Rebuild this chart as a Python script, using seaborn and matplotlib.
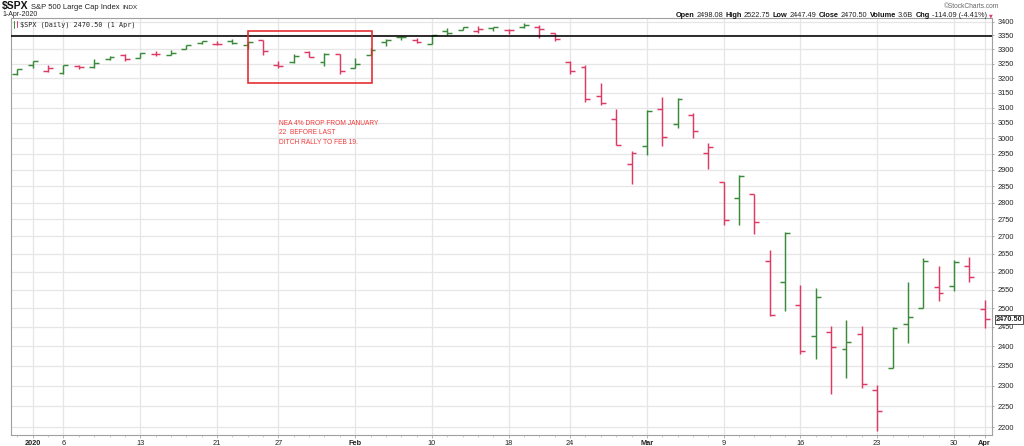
import numpy as np
import pandas as pd
import matplotlib
matplotlib.use("Agg")
import matplotlib.pyplot as plt
import seaborn as sns
from matplotlib.ticker import FixedLocator, FuncFormatter, NullLocator
from matplotlib.patches import Rectangle
from matplotlib.lines import Line2D

# ---------------- data ----------------
dates = ["2019-12-31",
         "2020-01-02", "2020-01-03", "2020-01-06", "2020-01-07", "2020-01-08", "2020-01-09", "2020-01-10",
         "2020-01-13", "2020-01-14", "2020-01-15", "2020-01-16", "2020-01-17", "2020-01-21", "2020-01-22",
         "2020-01-23", "2020-01-24", "2020-01-27", "2020-01-28", "2020-01-29", "2020-01-30", "2020-01-31",
         "2020-02-03", "2020-02-04", "2020-02-05", "2020-02-06", "2020-02-07", "2020-02-10", "2020-02-11",
         "2020-02-12", "2020-02-13", "2020-02-14", "2020-02-18", "2020-02-19", "2020-02-20", "2020-02-21",
         "2020-02-24", "2020-02-25", "2020-02-26", "2020-02-27", "2020-02-28",
         "2020-03-02", "2020-03-03", "2020-03-04", "2020-03-05", "2020-03-06", "2020-03-09", "2020-03-10",
         "2020-03-11", "2020-03-12", "2020-03-13", "2020-03-16", "2020-03-17", "2020-03-18", "2020-03-19",
         "2020-03-20", "2020-03-23", "2020-03-24", "2020-03-25", "2020-03-26", "2020-03-27", "2020-03-30",
         "2020-03-31", "2020-04-01"]

open_ = [3215.18, 3244.67, 3226.36, 3217.55, 3241.86, 3238.59, 3266.03, 3281.81, 3271.13, 3285.35, 3282.27,
         3302.97, 3323.66, 3321.03, 3330.02, 3315.77, 3333.10, 3247.16, 3255.35, 3289.46, 3256.45, 3282.33,
         3235.66, 3280.61, 3324.91, 3344.92, 3335.54, 3318.28, 3365.87, 3370.50, 3365.90, 3378.08, 3369.04,
         3380.39, 3380.45, 3360.50, 3257.61, 3238.94, 3139.90, 3062.54, 2916.90,
         2974.28, 3096.46, 3045.75, 3075.70, 2954.20, 2863.89, 2813.48, 2825.60, 2630.86, 2569.99, 2508.59,
         2425.66, 2436.50, 2393.48, 2431.94, 2290.71, 2344.44, 2457.77, 2501.29, 2555.87, 2558.98, 2614.69,
         2498.08]
high = [3231.72, 3258.14, 3246.15, 3246.84, 3244.91, 3267.07, 3275.58, 3282.99, 3288.13, 3294.25, 3298.66,
        3317.11, 3329.88, 3329.79, 3337.77, 3326.88, 3333.18, 3258.85, 3285.78, 3293.47, 3285.91, 3282.33,
        3268.44, 3306.92, 3337.58, 3347.96, 3341.42, 3352.26, 3375.63, 3381.47, 3385.09, 3380.69, 3375.01,
        3393.52, 3389.15, 3360.76, 3259.81, 3246.99, 3182.51, 3097.07, 2959.72,
        3090.96, 3136.72, 3130.97, 3083.04, 2985.93, 2863.89, 2882.59, 2825.60, 2660.95, 2711.33, 2562.98,
        2553.93, 2453.57, 2466.97, 2453.01, 2300.73, 2449.71, 2571.42, 2637.01, 2615.91, 2631.80, 2641.39,
        2522.75]
low = [3212.03, 3235.53, 3222.34, 3214.64, 3232.43, 3236.67, 3263.67, 3260.86, 3268.43, 3277.19, 3280.69,
       3302.82, 3318.86, 3316.61, 3320.04, 3301.87, 3281.53, 3234.50, 3253.22, 3271.89, 3242.80, 3214.68,
       3235.66, 3280.61, 3313.75, 3334.39, 3322.12, 3317.77, 3352.72, 3369.72, 3360.52, 3366.15, 3355.61,
       3378.83, 3341.02, 3328.45, 3214.65, 3118.77, 3108.99, 2977.39, 2855.84,
       2945.19, 2976.63, 3034.38, 2999.83, 2901.54, 2734.43, 2734.00, 2707.22, 2478.86, 2492.37, 2380.94,
       2367.04, 2280.52, 2319.78, 2295.56, 2191.86, 2344.44, 2407.53, 2500.72, 2520.02, 2545.28, 2571.15,
       2447.49]
close = [3230.78, 3257.85, 3234.85, 3246.28, 3237.18, 3253.05, 3274.70, 3265.35, 3288.13, 3283.15, 3289.29,
         3316.81, 3329.62, 3320.79, 3321.75, 3325.54, 3295.47, 3243.63, 3276.24, 3273.40, 3283.66, 3225.52,
         3248.92, 3297.59, 3334.69, 3345.78, 3327.71, 3352.09, 3357.75, 3379.45, 3373.94, 3380.16, 3370.29,
         3386.15, 3373.23, 3337.75, 3225.89, 3128.21, 3116.39, 2978.76, 2954.22,
         3090.23, 3003.37, 3130.12, 3023.94, 2972.37, 2746.56, 2882.23, 2741.38, 2480.64, 2711.02, 2386.13,
         2529.19, 2398.10, 2409.39, 2304.92, 2237.40, 2447.33, 2475.56, 2630.07, 2541.47, 2626.65, 2584.59,
         2470.50]
prev_close_before_first = 3221.29

tick_dates = ["2020-01-02", "2020-01-06", "2020-01-13", "2020-01-21", "2020-01-27", "2020-02-03",
              "2020-02-10", "2020-02-18", "2020-02-24", "2020-03-02", "2020-03-09", "2020-03-16",
              "2020-03-23", "2020-03-30", "2020-04-01"]
tick_labels = ["2020", "6", "13", "21", "27", "Feb", "10", "18", "24", "Mar", "9", "16", "23", "30", "Apr"]
bold_labels = {"2020", "Feb", "Mar", "Apr"}

y_levels = list(range(2200, 3401, 50))
resistance_level = 3348
annotation_text = "NEA 4% DROP FROM JANUARY\n22  BEFORE LAST\nDITCH RALLY TO FEB 19."
last_close = 2470.50

# ---------------- style ----------------
sns.set_theme(style="white")
plt.rcParams["font.family"] = ["Liberation Sans", "DejaVu Sans"]

W, H = 1024, 446
fig = plt.figure(figsize=(W / 100, H / 100), dpi=100)
ax = fig.add_axes([10.5 / W, 1 - 435 / H, (992 - 10.5) / W, (435 - 18) / H])

df = pd.DataFrame({"date": dates, "open": open_, "high": high, "low": low, "close": close})
df["i"] = np.arange(len(df))
prev = np.r_[prev_close_before_first, df["close"].values[:-1]]
df["dir"] = np.where(df["close"].values >= prev, "up", "down")
palette = {"up": "#3b8a3b", "down": "#dc3b64"}

tw = 0.32
for d, g in df.groupby("dir"):
    c = palette[d]
    ax.vlines(g["i"], g["low"], g["high"], colors=c, lw=1.05, capstyle="butt", zorder=3)
    ax.hlines(g["open"], g["i"] - tw, g["i"], colors=c, lw=1.05, capstyle="butt", zorder=3)
    ax.hlines(g["close"], g["i"], g["i"] + tw, colors=c, lw=1.05, capstyle="butt", zorder=3)

ax.set_yscale("log")
ax.set_ylim(2181.5, 3413.5)
ax.set_xlim(-0.45, 63.48)

ax.yaxis.set_major_locator(FixedLocator(y_levels))
ax.yaxis.set_minor_locator(NullLocator())
ax.yaxis.set_major_formatter(FuncFormatter(lambda v, p: f"{v:.0f}"))
ax.yaxis.set_minor_formatter(FuncFormatter(lambda v, p: ""))
ax.yaxis.tick_right()
ax.tick_params(axis="y", which="major", length=1.5, pad=2.5, labelsize=5.3,
               labelcolor="#222222", color="#999999", width=0.6)

idx = {d: k for k, d in enumerate(dates)}
ax.xaxis.set_major_locator(FixedLocator([idx[d] for d in tick_dates]))
ax.set_xticklabels(tick_labels)
ax.xaxis.set_minor_locator(FixedLocator(df["i"].tolist()))
ax.tick_params(axis="x", which="major", length=2, pad=1.5, labelsize=5.3,
               labelcolor="#222222", color="#aaaaaa", width=0.6, bottom=True)
ax.tick_params(axis="x", which="minor", length=1.5, color="#bbbbbb", width=0.5, bottom=True)
for lab in ax.get_xticklabels():
    if lab.get_text() in bold_labels:
        lab.set_fontweight("bold")

ax.grid(True, which="major", axis="both", color="#e6e6e6", lw=0.9)
ax.set_axisbelow(True)
for s in ax.spines.values():
    s.set_color("#a0a0a0")
    s.set_linewidth(0.8)
ax.set_xlabel("")
ax.set_ylabel("")

ax.axhline(resistance_level, color="black", lw=1.15, zorder=4)
ax.add_patch(Rectangle((15.04, 3184.4), 23.1 - 15.04, 3367.3 - 3184.4, fill=False,
                       ec="#e5262b", lw=1.15, zorder=5))
ax.text(17.06, 3059, annotation_text, color="#f03a3a", fontsize=4.8, va="top", ha="left",
        linespacing=1.45, zorder=5)

ax.text(1.004, last_close, f"{last_close:.2f}", transform=ax.get_yaxis_transform(),
        va="center", ha="left", fontsize=5.3, fontweight="bold", color="#222222", clip_on=False,
        bbox=dict(boxstyle="square,pad=0.12", fc="white", ec="#333333", lw=0.6), zorder=6)

# ---------------- header texts ----------------
fig.canvas.draw()
renderer = fig.canvas.get_renderer()


def chain(x_px, base_px, parts, gap=2.5, right=False):
    texts = []
    x = x_px
    for s, kw in parts:
        t = fig.text(x / W, 1 - base_px / H, s, va="baseline", ha="left", **kw)
        bb = t.get_window_extent(renderer)
        texts.append(t)
        x = bb.x1 + gap
    if right:
        shift = (x - gap) - x_px
        for t in texts:
            px = t.get_position()[0] * W
            t.set_x((px - shift) / W)
    return texts


chain(2, 9, [("$SPX", dict(fontsize=7.5, fontweight="bold", color="#111111")),
             ("S&P 500 Large Cap Index", dict(fontsize=5.5, color="#222222")),
             ("INDX", dict(fontsize=4.6, color="#222222"))], gap=2.5)
fig.text(2 / W, 1 - 16.5 / H, "1-Apr-2020", fontsize=5, color="#222222", va="baseline", ha="left")

fig.add_artist(Line2D([13.5 / W, 13.5 / W], [1 - 21 / H, 1 - 27.5 / H], color="#3b8a3b", lw=0.7))
fig.add_artist(Line2D([16.5 / W, 16.5 / W], [1 - 20.5 / H, 1 - 26.5 / H], color="#dc3b64", lw=0.7))
fig.text(20 / W, 1 - 26.5 / H, "$SPX (Daily) 2470.50 (1 Apr)", fontsize=4.9, color="#222222",
         family=["DejaVu Sans Mono"], va="baseline", ha="left")

fig.text(999 / W, 1 - 8 / H, "\u00a9StockCharts.com", fontsize=4.8, color="#666666",
         va="baseline", ha="right")

b = dict(fontsize=5.3, fontweight="bold", color="#111111")
n = dict(fontsize=5.3, color="#222222")
chain(993, 17, [("Open", b), ("2498.08", n), ("High", b), ("2522.75", n), ("Low", b), ("2447.49", n),
                ("Close", b), ("2470.50", n), ("Volume", b), ("3.6B", n), ("Chg", b),
                ("-114.09 (-4.41%)", n),
                ("\u25bc", dict(fontsize=3.5, color="#dc3b64", family=["DejaVu Sans"]))],
      gap=2.2, right=True)

fig.savefig("out.png", dpi=100)
